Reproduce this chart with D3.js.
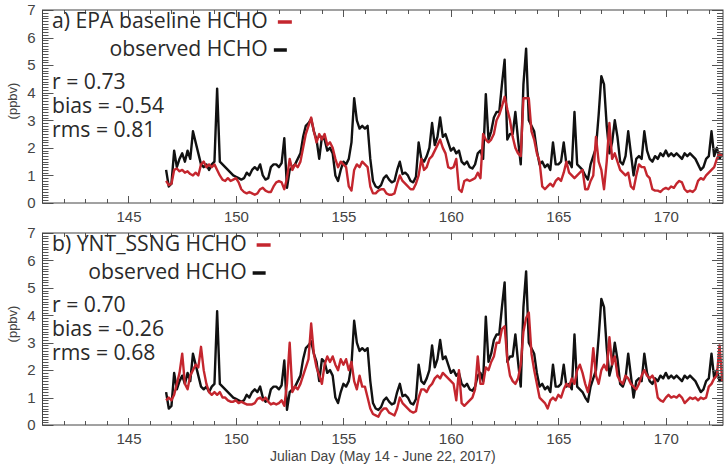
<!DOCTYPE html>
<html>
<meta charset="utf-8">
<head>
    <script src="https://d3js.org/d3.v7.min.js"></script>
    <style>
        body { margin: 0; background: #fff; }
    </style>
</head>
<body>
    <div id="chart"></div>
</body>

<script>
    // 3-hourly samples, first one at day 146.75
    const startDay = 146.75, stepDay = 0.125;

    const obsHCHO = [
        1.2, 0.6,                                   // 146
        0.7, 1.9, 1.3, 1.6, 1.8, 1.5, 1.9, 1.6,     // 147
        2.6, 2.2, 1.8, 1.4, 1.3, 1.4, 1.2, 1.4,     // 148
        1.5, 4.15, 1.5, 1.4, 1.3, 1.2, 1.1, 1.0,    // 149
        0.95, 0.9, 0.85, 0.9, 1.1, 1.0, 1.2, 1.3,   // 150
        1.2, 1.4, 1.0, 0.85, 0.9, 1.3, 1.4, 1.4,    // 151
        1.3, 1.45, 2.35, 0.55, 1.2, 1.3, 1.4, 1.6,  // 152
        1.8, 2.4, 2.8, 2.9, 3.05, 2.6, 2.3, 1.6,    // 153
        2.4, 2.3, 1.9, 2.0, 1.8, 1.0, 0.8, 1.2,     // 154
        1.5, 1.4, 1.6, 2.2, 3.8, 3.0, 2.7, 2.8,     // 155
        2.7, 2.8, 1.6, 0.8, 0.6, 0.55, 0.65, 0.9,   // 156
        1.0, 0.85, 0.75, 0.8, 1.2, 1.5, 1.05, 1.1,  // 157
        1.0, 0.8, 0.75, 0.95, 2.2, 1.6, 1.5, 1.7,   // 158
        2.0, 2.9, 2.1, 2.4, 3.1, 2.4, 2.5, 2.2,     // 159
        1.9, 2.0, 1.8, 1.9, 1.5, 1.4, 1.5, 1.3,     // 160
        1.25, 1.4, 1.8, 1.9, 1.6, 3.95, 2.3, 2.6,   // 161
        3.1, 3.3, 3.3, 4.3, 5.2, 2.3, 2.5, 2.5,     // 162
        3.3, 2.3, 1.4, 4.3, 5.6, 3.0, 2.8, 2.6,     // 163
        1.9, 1.4, 1.5, 1.3, 1.4, 1.2, 2.2, 1.4,     // 164
        1.4, 1.5, 2.2, 1.4, 1.5, 1.3, 3.3, 1.4,     // 165
        1.3, 1.2, 1.0, 0.85, 1.4, 1.7, 2.0, 3.2,    // 166
        4.6, 4.3, 2.8, 1.8, 2.2, 3.0, 2.4, 1.5,     // 167
        1.4, 1.7, 2.6, 1.8, 1.0, 1.6, 1.7, 1.6,     // 168
        2.6, 1.9, 1.6, 1.5, 1.7, 1.6, 1.8, 1.7,     // 169
        1.9, 1.7, 1.8, 1.7, 1.8, 1.7, 1.6, 1.8,     // 170
        1.7, 1.8, 1.7, 1.6, 1.4, 1.2, 1.3, 1.6,     // 171
        1.7, 2.6, 1.7, 2.0, 1.6, 1.8                // 172
    ];

    const epaHCHO = [
        0.8, 0.65,                                  // 146
        0.7, 1.2, 1.25, 1.15, 1.2, 1.1, 1.15, 1.05, // 147
        1.0, 1.1, 1.0, 1.4, 1.5, 1.3, 1.4, 1.3,     // 148
        1.4, 1.2, 1.0, 0.85, 0.8, 0.9, 0.8, 0.85,   // 149
        0.9, 0.75, 0.5, 0.4, 0.35, 0.4, 0.35, 0.3,  // 150
        0.35, 0.5, 0.55, 0.45, 0.4, 0.4, 0.6, 0.75, // 151
        0.8, 0.75, 0.5, 0.9, 1.6, 1.2, 1.4, 1.3,    // 152
        1.5, 2.0, 2.5, 2.8, 3.1, 2.6, 2.2, 2.5,     // 153
        2.3, 2.5, 2.1, 2.2, 2.0, 1.6, 1.3, 1.5,     // 154
        1.4, 1.3, 0.6, 0.45, 1.2, 1.4, 1.3, 1.5,    // 155
        1.4, 1.3, 0.6, 0.35, 0.35, 0.45, 0.5, 0.5,  // 156
        0.35, 0.3, 0.3, 0.35, 0.7, 1.0, 0.8, 0.7,   // 157
        0.6, 0.5, 0.5, 0.7, 1.0, 1.6, 1.2, 1.3,     // 158
        1.6, 1.7, 1.9, 2.1, 2.3, 2.0, 1.8, 1.3,     // 159
        1.25, 1.3, 1.6, 0.5, 0.4, 0.8, 0.85, 0.8,   // 160
        0.85, 0.9, 1.1, 0.9, 2.5, 2.3, 2.2, 2.3,    // 161
        2.5, 3.0, 3.2, 3.5, 3.85, 3.4, 3.0, 2.4,    // 162
        2.0, 1.8, 1.7, 3.8, 3.8, 3.8, 2.6, 2.3,     // 163
        1.8, 1.5, 0.6, 0.5, 0.6, 0.7, 0.6, 0.8,     // 164
        0.9, 0.8, 1.1, 1.5, 1.1, 1.0, 0.9, 1.0,     // 165
        1.1, 1.2, 0.5, 0.5, 0.8, 1.0, 2.4, 1.5,     // 166
        1.2, 0.5, 1.5, 2.9, 1.6, 1.8, 1.5, 1.2,     // 167
        1.1, 1.0, 1.1, 0.6, 0.5, 1.0, 1.4, 1.3,     // 168
        1.3, 1.0, 0.9, 0.5, 0.45, 0.45, 0.4, 0.5,   // 169
        0.55, 0.5, 0.6, 0.55, 0.7, 0.8, 0.75, 0.5,  // 170
        0.4, 0.45, 0.4, 0.5, 0.8, 0.9, 0.85, 1.0,   // 171
        1.1, 1.2, 1.3, 1.6, 1.8, 1.7                // 172
    ];

    const yntHCHO = [
        0.9, 1.0,                                   // 146
        0.9, 1.1, 1.5, 1.9, 2.6, 1.5, 1.3, 1.8,     // 147
        2.0, 2.2, 2.1, 2.85, 2.0, 1.5, 1.2, 1.1,    // 148
        1.2, 1.1, 1.2, 1.0, 1.0, 0.9, 0.85, 0.85,   // 149
        0.9, 0.8, 0.85, 0.8, 0.75, 0.75, 0.75, 0.8, // 150
        0.95, 1.0, 0.9, 1.0, 0.85, 0.75, 0.8, 0.75, // 151
        0.8, 0.9, 0.7, 1.5, 3.0, 1.2, 1.4, 1.3,     // 152
        1.5, 1.8, 2.1, 2.4, 3.7, 2.6, 2.1, 1.8,     // 153
        1.5, 2.2, 2.5, 2.3, 2.5, 2.2, 2.0, 2.4,     // 154
        2.2, 2.4, 2.0, 2.3, 1.6, 1.3, 1.8, 1.4,     // 155
        1.4, 1.0, 0.6, 0.4, 0.35, 0.3, 0.5, 0.6,    // 156
        0.6, 0.45, 0.4, 0.35, 0.6, 1.0, 0.8, 0.7,   // 157
        0.6, 0.5, 0.45, 0.5, 1.0, 1.3, 1.3, 1.2,    // 158
        1.4, 1.5, 1.7, 1.8, 1.7, 1.9, 1.8, 1.7,     // 159
        1.6, 1.5, 0.9, 2.0, 0.8, 0.7, 0.8, 0.9,     // 160
        1.0, 1.3, 2.5, 1.5, 1.5, 2.1, 2.0, 2.3,     // 161
        2.5, 3.0, 3.0, 3.5, 3.6, 2.4, 1.8, 1.6,     // 162
        1.5, 1.7, 2.2, 3.4, 3.9, 4.1, 2.6, 2.0,     // 163
        1.5, 1.0, 0.9, 0.8, 0.6, 0.9, 1.0, 0.9,     // 164
        1.1, 1.0, 1.3, 1.5, 1.4, 1.7, 1.5, 2.0,     // 165
        2.2, 1.9, 1.5, 1.2, 1.7, 2.8, 1.8, 1.5,     // 166
        2.0, 2.2, 2.0, 3.2, 2.2, 2.5, 1.8, 1.6,     // 167
        1.5, 1.8, 1.7, 1.5, 1.4, 1.3, 1.5, 1.8,     // 168
        2.0, 1.8, 1.7, 1.8, 1.6, 1.0, 0.9, 0.85,    // 169
        1.0, 1.1, 1.0, 1.05, 1.0, 1.1, 1.0, 0.8,    // 170
        0.9, 1.0, 0.95, 1.0, 0.9, 1.0, 0.95, 1.0,   // 171
        1.4, 1.5, 1.7, 1.8, 2.9, 1.6                // 172
    ];

    const panelTitles = ["a) EPA baseline HCHO", "b) YNT_SSNG HCHO"];
    const panelStats = [
        ["r = 0.73", "bias = -0.54", "rms = 0.81"],
        ["r = 0.70", "bias = -0.26", "rms = 0.68"]
    ];
    const xTickLabels = [145, 150, 155, 160, 165, 170];
    const yTickLabels = [0, 1, 2, 3, 4, 5, 6, 7];

    const width = 726, height = 466;
    const left = 42.5, right = 723;
    const panels = [
        { top: 10, bottom: 203, model: epaHCHO },
        { top: 233, bottom: 425, model: yntHCHO }
    ];
    const red = "#c4262e", frameColor = "#444", labelColor = "#444";
    const tickFont = "'Liberation Sans', Arial, sans-serif";
    const annoFont = "'Open Sans', 'DejaVu Sans', sans-serif";

    const svg = d3.select("#chart")
        .append("svg")
            .attr("width", width)
            .attr("height", height)
            .style("font-family", tickFont);

    const x = d3.scaleLinear().domain([141, 172.66]).range([left, right]);

    panels.forEach((p, k) => {
        const y = d3.scaleLinear().domain([0, 7]).range([p.bottom, p.top]);
        const g = svg.append("g");

        // clip
        g.append("clipPath").attr("id", "clip" + k)
            .append("rect")
                .attr("x", left).attr("y", p.top)
                .attr("width", right - left).attr("height", p.bottom - p.top);

        const line = d3.line()
            .x((d, i) => x(startDay + i * stepDay))
            .y(d => y(d));

        const lines = g.append("g").attr("clip-path", `url(#clip${k})`);
        lines.append("path")
            .datum(obsHCHO)
            .attr("d", line)
            .attr("fill", "none")
            .attr("stroke", "#111")
            .attr("stroke-width", 2.4)
            .attr("stroke-linejoin", "round");
        lines.append("path")
            .datum(p.model)
            .attr("d", line)
            .attr("fill", "none")
            .attr("stroke", red)
            .attr("stroke-width", 2.4)
            .attr("stroke-linejoin", "round");

        // inward ticks on all four sides
        const minorY = d3.range(0, 70).map(i => i / 10);
        const minorX = d3.range(142, 173);
        const ticks = g.append("g").attr("stroke", "#555").attr("stroke-width", 1);
        [[minorY, 6], [yTickLabels, 11]].forEach(([vals, len]) => {
            ticks.append("g").selectAll("line")
                .data(vals)
                .join("line")
                    .attr("x1", left).attr("x2", left + len)
                    .attr("y1", d => Math.round(y(d)) + 0.5)
                    .attr("y2", d => Math.round(y(d)) + 0.5);
            ticks.append("g").selectAll("line")
                .data(vals)
                .join("line")
                    .attr("x1", right).attr("x2", right - len)
                    .attr("y1", d => Math.round(y(d)) + 0.5)
                    .attr("y2", d => Math.round(y(d)) + 0.5);
        });
        [[minorX, 4], [xTickLabels, 7]].forEach(([vals, len]) => {
            ticks.append("g").selectAll("line")
                .data(vals)
                .join("line")
                    .attr("x1", d => Math.round(x(d)) + 0.5)
                    .attr("x2", d => Math.round(x(d)) + 0.5)
                    .attr("y1", p.bottom).attr("y2", p.bottom - len);
            ticks.append("g").selectAll("line")
                .data(vals)
                .join("line")
                    .attr("x1", d => Math.round(x(d)) + 0.5)
                    .attr("x2", d => Math.round(x(d)) + 0.5)
                    .attr("y1", p.top).attr("y2", p.top + len);
        });

        // frame
        g.append("rect")
            .attr("x", left).attr("y", p.top)
            .attr("width", right - left).attr("height", p.bottom - p.top)
            .attr("fill", "none")
            .attr("stroke", frameColor)
            .attr("stroke-width", 1);

        // tick labels
        g.append("g")
            .attr("transform", `translate(${left},0)`)
            .call(d3.axisLeft(y).tickValues(yTickLabels).tickFormat(d3.format("d"))
                .tickSize(0).tickPadding(7))
            .call(a => a.select(".domain").remove())
            .selectAll("text")
                .style("font-family", tickFont)
                .attr("font-size", 15)
                .attr("fill", labelColor);
        g.append("g")
            .attr("transform", `translate(0,${p.bottom})`)
            .call(d3.axisBottom(x).tickValues(xTickLabels).tickSize(0).tickPadding(8))
            .call(a => a.select(".domain").remove())
            .selectAll("text")
                .style("font-family", tickFont)
                .attr("font-size", 15)
                .attr("fill", labelColor);

        // y label
        g.append("text")
            .attr("transform", `translate(17,${p.top + 91}) rotate(-90)`)
            .attr("text-anchor", "middle")
            .attr("font-size", 13)
            .attr("fill", labelColor)
            .text("(ppbv)");

        // legend
        const title = g.append("text")
            .attr("x", 52).attr("y", p.top + 18)
            .style("font-family", annoFont)
            .attr("font-size", 21.2)
            .attr("fill", "#2a2a2a")
            .text(panelTitles[k]);
        const tEnd = 52 + title.node().getComputedTextLength();
        g.append("text")
            .attr("x", tEnd).attr("y", p.top + 46)
            .attr("text-anchor", "end")
            .style("font-family", annoFont)
            .attr("font-size", 21.2)
            .attr("fill", "#2a2a2a")
            .text("observed HCHO");
        g.append("line")
            .attr("x1", tEnd + 10).attr("x2", tEnd + 24)
            .attr("y1", p.top + 12).attr("y2", p.top + 12)
            .attr("stroke", red).attr("stroke-width", 3.5);
        g.append("line")
            .attr("x1", tEnd + 6).attr("x2", tEnd + 19)
            .attr("y1", p.top + 40).attr("y2", p.top + 40)
            .attr("stroke", "#111").attr("stroke-width", 3.5);

        g.selectAll(".stat")
            .data(panelStats[k])
            .join("text")
                .attr("class", "stat")
                .attr("x", 52)
                .attr("y", (d, i) => p.top + 79 + i * 24)
                .style("font-family", annoFont)
                .attr("font-size", 21.2)
                .attr("fill", "#2a2a2a")
                .text(d => d);
    });

    svg.append("text")
        .attr("x", (left + right) / 2)
        .attr("y", 461)
        .attr("text-anchor", "middle")
        .attr("font-size", 14)
        .attr("fill", labelColor)
        .text("Julian Day (May 14 - June 22, 2017)");
</script>
</html>
